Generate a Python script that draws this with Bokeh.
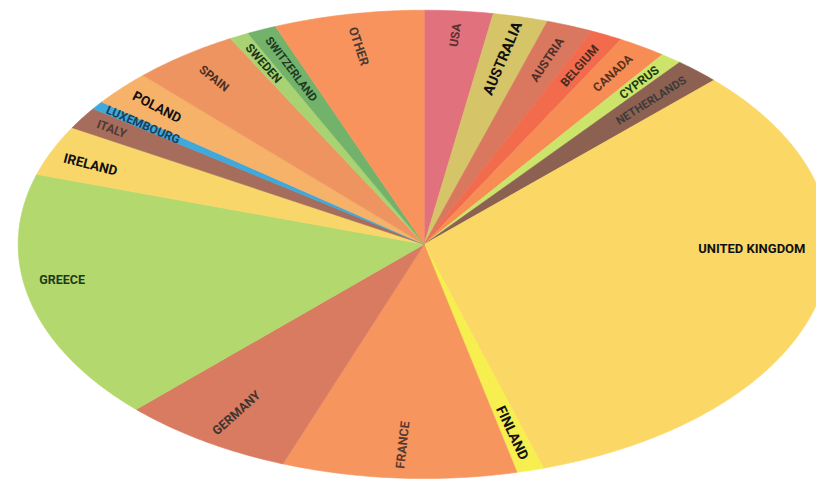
import numpy as np
from bokeh.plotting import figure
from bokeh.models import ColumnDataSource, Range1d
from bokeh.core.properties import value
from bokeh.embed import file_html
from bokeh.resources import INLINE

# ---- data (share of total, %) clockwise from 12 o'clock ----
countries = ["USA", "AUSTRALIA", "AUSTRIA", "BELGIUM", "CANADA", "CYPRUS",
             "NETHERLANDS", "UNITED KINGDOM", "FINLAND", "FRANCE", "GERMANY",
             "GREECE", "IRELAND", "ITALY", "LUXEMBOURG", "POLAND", "SPAIN",
             "SWEDEN", "SWITZERLAND", "OTHER"]
shares = [2.72, 2.19, 1.86, 1.28, 1.92, 0.86, 1.81, 32.61, 1.08, 9.33,
          6.89, 17.28, 3.47, 1.53, 0.56, 2.44, 4.25, 0.78, 1.17, 5.97]

# ---- styles ----
fill_colors = ["#e2717e", "#d5c468", "#d9775f", "#f26b4c", "#f78c55", "#cde46a",
               "#8c6152", "#fbd865", "#f6ef4f", "#f7955e", "#d97b60", "#b3d86d",
               "#f9d66a", "#a66c5c", "#3fa9dc", "#f7b26a", "#ee9460", "#a9d373",
               "#72b26a", "#f8935d"]
text_colors = ["#5a3030", "#111111", "#4a3028", "#4a2a20", "#5a3320", "#1c3a12",
               "#3e3a38", "#111111", "#111111", "#5a3a30", "#3e3430", "#1e3a1a",
               "#111111", "#4e3a34", "#1c3e5a", "#111111", "#4a3025", "#1c3618",
               "#1e3a22", "#4a3a34"]
font_sizes = ["12px", "14.5px", "12px", "12px", "12px", "12px", "11.5px", "13px", "14px",
              "12.5px", "12.5px", "12.5px", "13.5px", "12px", "12px", "13.5px", "12px",
              "12px", "11.5px", "12.5px"]
label_r = [0.897, 0.817, 0.845, 0.853, 0.866, 0.871, 0.831, 0.807, 0.833, 0.858,
           0.855, 0.904, 0.890, 0.914, 0.860, 0.882, 0.877, 0.868, 0.817, 0.861]
label_off_deg = [0, 0, 0, 0, 0, 0, 0, 13, 0, 0, 0, -4.2, 1, 0, 0, 0, 0, 0, 0, 0]
horizontal = [False] * 20
horizontal[countries.index("UNITED KINGDOM")] = True
horizontal[countries.index("GREECE")] = True

# geometry in reference pixels (y flipped)
W, H = 832, 495
FW, FH = 816, 479
sx, sy = FW / W, FH / H
cx, cy = 432, H - 252
rx, ry = 414, 242

p = figure(width=FW, height=FH, output_backend="svg", toolbar_location=None,
           x_range=Range1d(0, W), y_range=Range1d(0, H),
           x_axis_location=None, y_axis_location=None,
           min_border=0, background_fill_color="white")
p.grid.visible = False
p.outline_line_color = None

vals = np.array(shares, dtype=float)
ang = vals / vals.sum() * 2 * np.pi
cum = np.concatenate([[0], np.cumsum(ang)])
starts = np.pi / 2 - cum[:-1]
ends = np.pi / 2 - cum[1:]

xs, ys = [], []
for a0, a1 in zip(starts, ends):
    n = max(4, int(abs(a1 - a0) / (2 * np.pi) * 720))
    t = np.linspace(a0, a1, n)
    xs.append(np.concatenate([[cx], cx + rx * np.cos(t)]).tolist())
    ys.append(np.concatenate([[cy], cy + ry * np.sin(t)]).tolist())

p.patches(xs=xs, ys=ys, fill_color=fill_colors, line_color=fill_colors, line_width=0.6)

mids = (starts + ends) / 2
lx, ly, la = [], [], []
for i, m in enumerate(mids):
    th = m + np.deg2rad(label_off_deg[i])
    lx.append(cx + label_r[i] * rx * np.cos(th))
    ly.append(cy + label_r[i] * ry * np.sin(th))
    if horizontal[i]:
        la.append(0.0)
    else:
        a = np.arctan2(sy * ry * np.sin(m), sx * rx * np.cos(m))
        if a > np.pi / 2:
            a -= np.pi
        elif a < -np.pi / 2:
            a += np.pi
        la.append(float(a))

src = ColumnDataSource(dict(x=lx, y=ly, text=countries, angle=la,
                            color=text_colors, size=font_sizes))
p.text(x="x", y="y", text="text", angle="angle", text_color="color",
       text_font_size="size", text_font=value("Roboto"),
       text_font_style="bold", text_align="center", text_baseline="middle",
       source=src)

open("out.html", "w").write(file_html(p, INLINE))
